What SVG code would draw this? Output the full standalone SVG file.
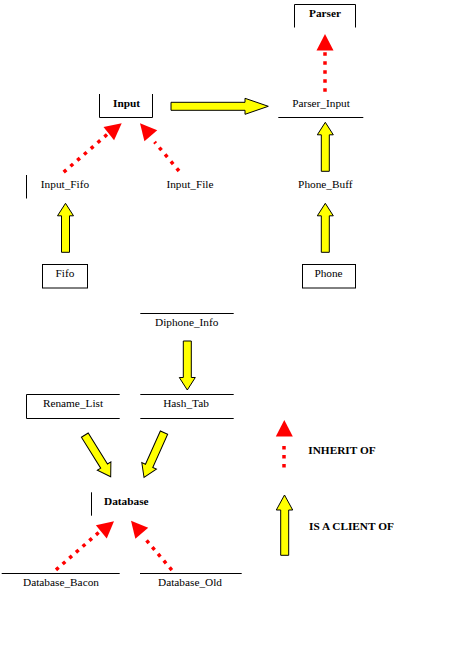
<svg xmlns="http://www.w3.org/2000/svg" xmlns:xlink="http://www.w3.org/1999/xlink" width="452" height="666" viewBox="0 0 452 666">
<style>
text{font-family:"Liberation Serif","Times New Roman",serif;font-size:11.3px;fill:#000}
.b{font-weight:bold}
.m{text-anchor:middle}
.ln{fill:none;stroke:#000;stroke-width:1}
.ya{fill:#ffff00;stroke:#000;stroke-width:1;stroke-linejoin:miter}
.rh{fill:#ff0000;stroke:none}
.rd{fill:none;stroke:#ff0000;stroke-width:3.5}
</style>
<defs>
<path id="yarrow" d="M0,0 L8,12.5 L4,12.5 L4,49 L-4,49 L-4,12.5 L-8,12.5 Z"/>
<path id="rhead" d="M0,0 L8.5,16.5 L-8.5,16.5 Z"/>
</defs>
<rect width="452" height="666" fill="#fff"/>

<g id="Parser">
<path class="ln" d="M294.5,27.5 V4.5 H355.5 V27.5"/>
<text class="b m" x="325" y="17.3">Parser</text>
</g>
<g id="Input">
<path class="ln" d="M99.5,94 V117.5 H152.5 V94"/>
<text class="b m" x="126.5" y="107">Input</text>
</g>
<g id="Parser_Input">
<path class="ln" d="M278.3,117.5 H363.3"/>
<text class="m" x="321" y="107">Parser_Input</text>
</g>
<g id="Input_Fifo">
<path class="ln" d="M26.5,175 V198.5"/>
<text class="m" x="65" y="188">Input_Fifo</text>
</g>
<g id="Input_File">
<text class="m" x="190" y="188">Input_File</text>
</g>
<g id="Phone_Buff">
<text class="m" x="325.3" y="188">Phone_Buff</text>
</g>
<g id="Fifo">
<rect class="ln" x="42.5" y="264.5" width="45" height="23.5"/>
<text class="m" x="65" y="277">Fifo</text>
</g>
<g id="Phone">
<rect class="ln" x="302.5" y="264.5" width="53" height="23.5"/>
<text class="m" x="328.5" y="277">Phone</text>
</g>
<g id="Diphone_Info">
<path class="ln" d="M140.3,313.5 H233.7"/>
<text class="m" x="186.7" y="325.5">Diphone_Info</text>
</g>
<g id="Rename_List">
<path class="ln" d="M119.7,394.5 H26.5 V418.5 H119.7"/>
<text class="m" x="73" y="407">Rename_List</text>
</g>
<g id="Hash_Tab">
<path class="ln" d="M140.3,394.5 H233.7 M140.3,418.5 H233.7"/>
<text class="m" x="186" y="407">Hash_Tab</text>
</g>
<g id="Database">
<path class="ln" d="M91.5,492.3 V515.7"/>
<text class="b" x="104" y="504.5">Database</text>
</g>
<g id="Database_Bacon">
<path class="ln" d="M1.7,573.5 H119.7"/>
<text class="m" x="61" y="585.5">Database_Bacon</text>
</g>
<g id="Database_Old">
<path class="ln" d="M140,573.5 H241.7"/>
<text class="m" x="190" y="585.5">Database_Old</text>
</g>

<g id="connectors">
<!-- client-of (yellow) -->
<path class="ya" d="M171,102.3 H245 V98.3 L268.3,106.3 L245,114.3 V110.3 H171 Z"/>
<use class="ya" xlink:href="#yarrow" transform="translate(325.3,122.3)"/>
<use class="ya" xlink:href="#yarrow" transform="translate(65.5,203.3)"/>
<use class="ya" xlink:href="#yarrow" transform="translate(325.3,203.3)"/>
<use class="ya" xlink:href="#yarrow" transform="translate(187.3,390) rotate(180)"/>
<use class="ya" xlink:href="#yarrow" transform="translate(110.7,476.7) rotate(148.1)"/>
<use class="ya" xlink:href="#yarrow" transform="translate(144,477.3) rotate(204.1)"/>
<!-- inherit-of (red dotted) -->
<path class="rd" stroke-dasharray="3.5 5.5" d="M325,91.75 V52.25"/>
<use class="rh" xlink:href="#rhead" transform="translate(325,34)"/>
<path class="rd" stroke-dasharray="3.5 5.48" d="M63.68,172.15 L107.02,134.55"/>
<use class="rh" xlink:href="#rhead" transform="translate(121.7,123.3) rotate(51.5)"/>
<path class="rd" stroke-dasharray="3.5 5.55" d="M179,171 L154.57,141.96"/>
<use class="rh" xlink:href="#rhead" transform="translate(140,123.3) rotate(-41.1)"/>
<path class="rd" stroke-dasharray="3.5 5.36" d="M55.98,569.85 L98.62,532.55"/>
<use class="rh" xlink:href="#rhead" transform="translate(114,521.3) rotate(50.3)"/>
<path class="rd" stroke-dasharray="3.5 5.37" d="M171.83,570.03 L146.57,540.37"/>
<use class="rh" xlink:href="#rhead" transform="translate(131,520.7) rotate(-40.8)"/>
</g>

<g id="legend">
<use class="rh" xlink:href="#rhead" transform="translate(284.3,420)"/>
<path class="rd" stroke-dasharray="3.5 5.5" d="M284,467.45 V445.95"/>
<text class="b" x="308.3" y="454">INHERIT  OF</text>
<path class="ya" d="M284.5,495 L292.7,510 L288.7,510 L288.7,555.3 L280.7,555.3 L280.7,510 L276.3,510 Z"/>
<text class="b" x="309" y="529.7">IS A CLIENT  OF</text>
</g>
</svg>
